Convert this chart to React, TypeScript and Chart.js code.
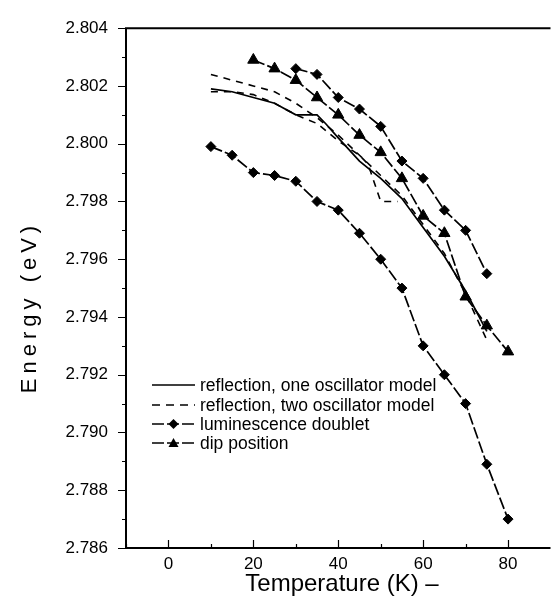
import React, { useEffect, useRef } from "react";
import { Chart, registerables } from "chart.js";

Chart.register(...registerables);

// Luminescence doublet, lower branch
const lumLowT = [10, 15, 20, 25, 30, 35, 40, 45, 50, 55, 60, 65, 70, 75, 80];
const lumLowE = [2.7999, 2.7996, 2.799, 2.7989, 2.7987, 2.798, 2.7977, 2.7969, 2.796, 2.795, 2.793, 2.792, 2.791, 2.7889, 2.787];
// Luminescence doublet, upper branch
const lumHighT = [30, 35, 40, 45, 50, 55, 60, 65, 70, 75];
const lumHighE = [2.8026, 2.8024, 2.8016, 2.8012, 2.8006, 2.7994, 2.7988, 2.7977, 2.797, 2.7955];
// Dip position
const dipT = [20, 25, 30, 35, 40, 45, 50, 55, 60, 65, 70, 75, 80];
const dipE = [2.8029, 2.8026, 2.8022, 2.8016, 2.801, 2.8003, 2.7997, 2.7988, 2.7975, 2.7969, 2.7947, 2.7937, 2.7928];
// Reflection, one oscillator model
const oneT = [10, 15, 20, 25, 30, 35, 37, 40, 45, 50, 55, 60, 65, 70, 75];
const oneE = [2.8019, 2.8018, 2.8016, 2.8014, 2.801, 2.801, 2.8007, 2.8002, 2.7994, 2.7988, 2.7981, 2.7971, 2.7961, 2.7949, 2.7935];
// Reflection, two oscillator model (upper branch)
const twoAT = [10, 15, 20, 25, 30, 35, 40, 45, 50, 55, 60, 65, 70, 75];
const twoAE = [2.8024, 2.8022, 2.802, 2.8018, 2.8014, 2.8009, 2.8003, 2.7996, 2.7989, 2.7982, 2.7972, 2.7962, 2.7948, 2.7932];
// Reflection, two oscillator model (lower branch)
const twoBT = [10, 15, 20, 25, 30, 35, 40, 45, 47, 50, 54];
const twoBE = [2.8018, 2.8018, 2.8017, 2.8014, 2.801, 2.8007, 2.8001, 2.7996, 2.7993, 2.798, 2.798];

const xTicks = [0, 20, 40, 60, 80];
const xMinorTicks = [-10, 10, 30, 50, 70];
const yTicks = [2.786, 2.788, 2.79, 2.792, 2.794, 2.796, 2.798, 2.8, 2.802, 2.804];
const yMinorTicks = [2.787, 2.789, 2.791, 2.793, 2.795, 2.797, 2.799, 2.801, 2.803];

const legendLabels = [
  "reflection, one oscillator model",
  "reflection, two oscillator model",
  "luminescence doublet",
  "dip position",
];
const xTitle = "Temperature (K) \u2013";
const yTitle = "Energy (eV)";

const FONT = "'Liberation Sans', Arial, sans-serif";

const pts = (xs: number[], ys: number[]) => xs.map((x, i) => ({ x, y: ys[i] }));

const framePlugin = {
  id: "frame",
  afterDraw(chart: any) {
    const ctx = chart.ctx as CanvasRenderingContext2D;
    const { left, right, top, bottom } = chart.chartArea;
    const xs = chart.scales.x;
    const ys = chart.scales.y;
    ctx.save();
    ctx.strokeStyle = "#000";
    ctx.lineWidth = 2;
    ctx.setLineDash([]);
    ctx.beginPath();
    ctx.moveTo(left, top);
    ctx.lineTo(right, top);
    ctx.moveTo(left, top - 1);
    ctx.lineTo(left, bottom + 1);
    ctx.moveTo(left, bottom);
    ctx.lineTo(right, bottom);
    ctx.stroke();
    ctx.lineWidth = 1.2;
    ctx.beginPath();
    yTicks.forEach((v) => {
      const y = Math.round(ys.getPixelForValue(v)) + 0.5;
      ctx.moveTo(left - 8, y);
      ctx.lineTo(left, y);
    });
    yMinorTicks.forEach((v) => {
      const y = Math.round(ys.getPixelForValue(v)) + 0.5;
      ctx.moveTo(left - 4, y);
      ctx.lineTo(left, y);
    });
    xTicks.forEach((v) => {
      const x = Math.round(xs.getPixelForValue(v)) + 0.5;
      ctx.moveTo(x, bottom);
      ctx.lineTo(x, bottom - 8);
    });
    xMinorTicks.forEach((v) => {
      const x = Math.round(xs.getPixelForValue(v)) + 0.5;
      ctx.moveTo(x, bottom);
      ctx.lineTo(x, bottom - 4);
    });
    ctx.stroke();

    // Legend
    const rowY = [385, 405, 424, 443];
    const lx0 = 152;
    const lx1 = 195;
    ctx.fillStyle = "#000";
    ctx.font = `17.5px ${FONT}`;
    ctx.textAlign = "left";
    ctx.textBaseline = "middle";
    rowY.forEach((y, i) => {
      ctx.lineWidth = 1.6;
      if (i === 0) ctx.setLineDash([]);
      else if (i === 1) ctx.setLineDash([8, 6]);
      else ctx.setLineDash([12, 3]);
      ctx.beginPath();
      ctx.moveTo(lx0, y);
      ctx.lineTo(lx1, y);
      ctx.stroke();
      ctx.setLineDash([]);
      const cx = (lx0 + lx1) / 2;
      if (i === 2) {
        ctx.beginPath();
        ctx.moveTo(cx, y - 5);
        ctx.lineTo(cx + 5, y);
        ctx.lineTo(cx, y + 5);
        ctx.lineTo(cx - 5, y);
        ctx.closePath();
        ctx.fill();
      } else if (i === 3) {
        ctx.beginPath();
        ctx.moveTo(cx, y - 5);
        ctx.lineTo(cx + 5, y + 4);
        ctx.lineTo(cx - 5, y + 4);
        ctx.closePath();
        ctx.fill();
      }
      ctx.fillText(legendLabels[i], 200, y + 1);
    });

    // Titles
    ctx.font = `24px ${FONT}`;
    ctx.textAlign = "center";
    ctx.textBaseline = "middle";
    ctx.fillText(xTitle, 342, 584);
    ctx.save();
    ctx.translate(30, 307);
    ctx.rotate(-Math.PI / 2);
    (ctx as any).letterSpacing = "5px";
    ctx.font = `22px ${FONT}`;
    ctx.fillText(yTitle, 0, 0);
    ctx.restore();
    ctx.restore();
  },
};

export default function App() {
  const ref = useRef<HTMLCanvasElement | null>(null);
  useEffect(() => {
    document.body.style.margin = "0";
    const canvas = ref.current;
    if (!canvas) return;
    const markerLine = {
      borderColor: "#000",
      borderWidth: 1.7,
      borderDash: [12, 3],
      pointBackgroundColor: "#000",
      pointBorderColor: "#000",
      pointBorderWidth: 1,
      tension: 0,
    };
    const chart = new Chart(canvas, {
      type: "line",
      data: {
        datasets: [
          { label: legendLabels[0], data: pts(oneT, oneE), borderColor: "#000", borderWidth: 1.7, pointRadius: 0, tension: 0 },
          { label: legendLabels[1], data: pts(twoAT, twoAE), borderColor: "#000", borderWidth: 1.6, borderDash: [7, 6], pointRadius: 0, tension: 0 },
          { label: legendLabels[1] + " (2)", data: pts(twoBT, twoBE), borderColor: "#000", borderWidth: 1.6, borderDash: [7, 6], pointRadius: 0, tension: 0 },
          { label: legendLabels[2], data: pts(lumLowT, lumLowE), ...markerLine, pointStyle: "rectRot", pointRadius: 5 },
          { label: legendLabels[2] + " (2)", data: pts(lumHighT, lumHighE), ...markerLine, pointStyle: "rectRot", pointRadius: 5 },
          { label: legendLabels[3], data: pts(dipT, dipE), ...markerLine, pointStyle: "triangle", pointRadius: 6.5 },
        ] as any,
      },
      options: {
        responsive: false,
        animation: false,
        events: [],
        layout: { padding: { top: 17, right: 0, left: 0, bottom: 0 } },
        plugins: { legend: { display: false }, tooltip: { enabled: false } },
        scales: {
          x: {
            type: "linear",
            min: -10,
            max: 90,
            afterBuildTicks: (s: any) => {
              s.ticks = xTicks.map((v) => ({ value: v }));
            },
            afterFit: (s: any) => {
              s.height = 50;
            },
            grid: { display: false, drawTicks: false },
            border: { display: false },
            ticks: {
              autoSkip: false,
              maxRotation: 0,
              padding: 6,
              color: "#000",
              font: { family: FONT, size: 17 },
              callback: (v: any) => String(v),
            },
          },
          y: {
            type: "linear",
            min: 2.786,
            max: 2.804,
            afterBuildTicks: (s: any) => {
              s.ticks = yTicks.map((v) => ({ value: v }));
            },
            afterFit: (s: any) => {
              s.width = 126;
            },
            grid: { display: false, drawTicks: false },
            border: { display: false },
            ticks: {
              autoSkip: false,
              padding: 18,
              color: "#000",
              font: { family: FONT, size: 17 },
              callback: (v: any) => Number(v).toFixed(3),
            },
          },
        },
      } as any,
      plugins: [framePlugin],
    });
    return () => chart.destroy();
  }, []);
  return <canvas ref={ref} width={558} height={598} style={{ display: "block" }} />;
}
